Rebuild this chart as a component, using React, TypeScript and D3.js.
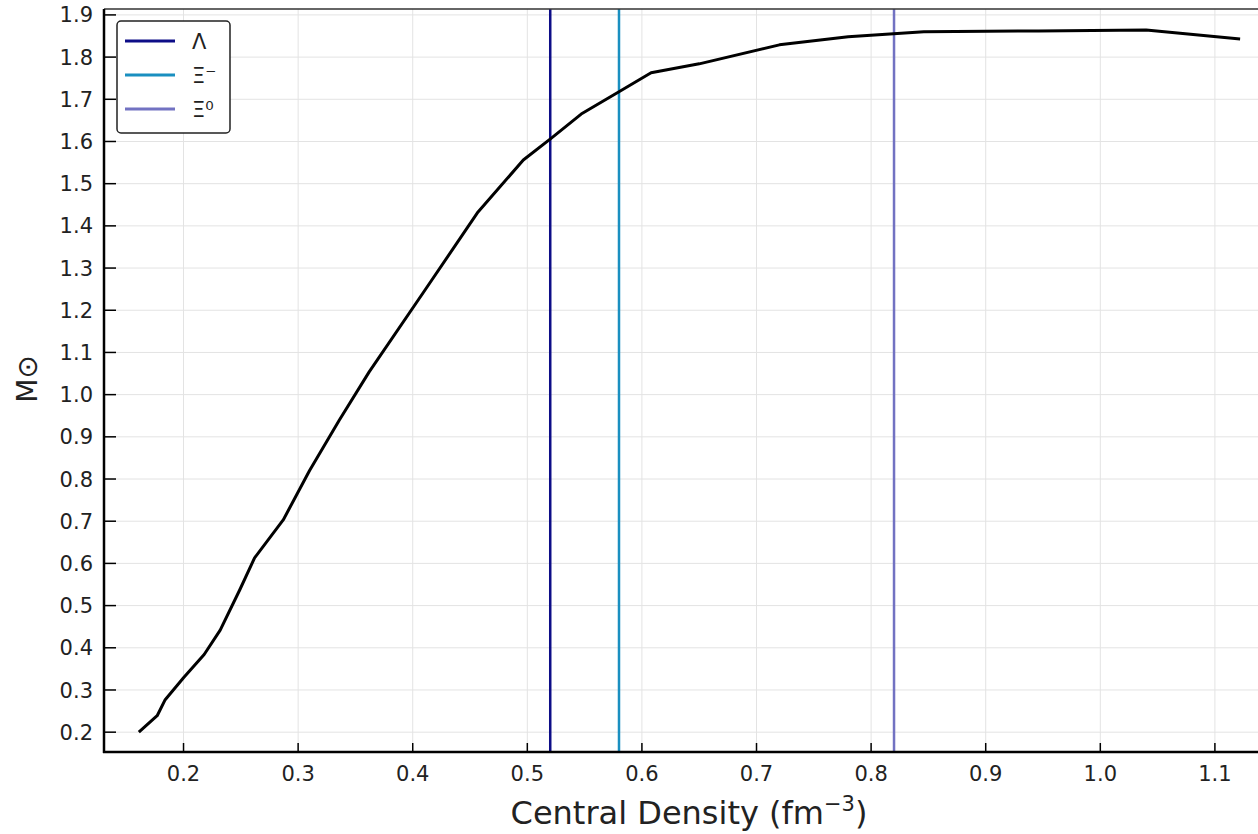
import React, { useEffect, useRef } from "react";
import * as d3 from "d3";

// central density (fm^-3) vs maximum mass (solar masses)
const density = [0.161, 0.177, 0.184, 0.2, 0.218, 0.232, 0.249, 0.262, 0.287, 0.31, 0.336, 0.362, 0.41, 0.457, 0.4965, 0.521, 0.547, 0.58, 0.608, 0.65, 0.72, 0.78, 0.846, 0.946, 1.04, 1.122];
const mass = [0.2, 0.239, 0.277, 0.329, 0.384, 0.442, 0.537, 0.613, 0.703, 0.82, 0.94, 1.054, 1.245, 1.433, 1.556, 1.608, 1.665, 1.718, 1.763, 1.784, 1.829, 1.848, 1.86, 1.862, 1.864, 1.843];

const thresholdNames = ["Λ", "Ξ⁻", "Ξ⁰"];
const thresholdDensity = [0.52, 0.58, 0.82];
const thresholdColors = ["#0d0d87", "#1a8fc0", "#7272c2"];

const xTicks = [0.2, 0.3, 0.4, 0.5, 0.6, 0.7, 0.8, 0.9, 1.0, 1.1];
const yTicks = d3.range(2, 20).map((v) => v / 10);

export default function App() {
  const ref = useRef<SVGSVGElement>(null);

  useEffect(() => {
    const W = 1258;
    const H = 834;
    const left = 104, top = 9, right = 1262, bottom = 752;
    const font = "DejaVu Sans, sans-serif";

    const svg = d3.select(ref.current).html("");
    svg.attr("width", W).attr("height", H);

    const x = d3.scaleLinear().domain([0.1306, 1.1411]).range([left, right]);
    const y = d3.scaleLinear().domain([0.153, 1.914]).range([bottom, top]);

    // grid
    const grid = svg.append("g").attr("stroke", "#e3e3e3").attr("stroke-width", 1);
    xTicks.forEach((t) => {
      grid.append("line").attr("x1", x(t)).attr("x2", x(t)).attr("y1", top).attr("y2", bottom);
    });
    yTicks.forEach((t) => {
      grid.append("line").attr("x1", left).attr("x2", right).attr("y1", y(t)).attr("y2", y(t));
    });

    // threshold lines
    thresholdDensity.forEach((d, i) => {
      svg.append("line")
        .attr("x1", x(d)).attr("x2", x(d))
        .attr("y1", top).attr("y2", bottom)
        .attr("stroke", thresholdColors[i])
        .attr("stroke-width", 2.5);
    });

    // mass curve
    const line = d3.line<number>()
      .x((d, i) => x(density[i]))
      .y((d) => y(d));
    svg.append("path")
      .attr("d", line(mass))
      .attr("fill", "none")
      .attr("stroke", "black")
      .attr("stroke-width", 3)
      .attr("stroke-linejoin", "round");

    // frame
    svg.append("line").attr("x1", left).attr("x2", right).attr("y1", top).attr("y2", top)
      .attr("stroke", "#333").attr("stroke-width", 1.5);
    svg.append("line").attr("x1", left).attr("x2", left).attr("y1", top).attr("y2", bottom + 1)
      .attr("stroke", "black").attr("stroke-width", 2.5);
    svg.append("line").attr("x1", left - 1).attr("x2", right).attr("y1", bottom).attr("y2", bottom)
      .attr("stroke", "black").attr("stroke-width", 2.5);

    // x ticks
    xTicks.forEach((t) => {
      svg.append("line").attr("x1", x(t)).attr("x2", x(t)).attr("y1", bottom).attr("y2", bottom - 9)
        .attr("stroke", "black").attr("stroke-width", 1.5);
      svg.append("text").attr("x", x(t)).attr("y", 781)
        .attr("text-anchor", "middle").attr("font-family", font).attr("font-size", 21)
        .attr("fill", "#222").text(t.toFixed(1));
    });

    // y ticks
    yTicks.forEach((t) => {
      svg.append("line").attr("x1", left).attr("x2", left + 12).attr("y1", y(t)).attr("y2", y(t))
        .attr("stroke", "black").attr("stroke-width", 1.5);
      svg.append("text").attr("x", 93).attr("y", y(t)).attr("dy", "0.36em")
        .attr("text-anchor", "end").attr("font-family", font).attr("font-size", 21)
        .attr("fill", "#222").text(t.toFixed(1));
    });

    // axis labels
    const xl = svg.append("text").attr("x", 689).attr("y", 824)
      .attr("text-anchor", "middle").attr("font-family", font).attr("font-size", 32)
      .attr("fill", "#222");
    xl.append("tspan").text("Central Density (fm");
    xl.append("tspan").attr("font-size", 21).attr("dy", -13).text("−3");
    xl.append("tspan").attr("dy", 13).text(")");

    svg.append("text")
      .attr("transform", "translate(37,379) rotate(-90)")
      .attr("text-anchor", "middle").attr("font-family", font).attr("font-size", 28)
      .attr("fill", "#222").text("M⊙");

    // legend
    const lg = svg.append("g");
    lg.append("rect").attr("x", 117).attr("y", 21).attr("width", 113).attr("height", 112)
      .attr("rx", 4).attr("fill", "white").attr("stroke", "#222").attr("stroke-width", 1.5);
    thresholdNames.forEach((name, i) => {
      const ry = 41 + i * 34;
      lg.append("line").attr("x1", 125).attr("x2", 175).attr("y1", ry).attr("y2", ry)
        .attr("stroke", thresholdColors[i]).attr("stroke-width", 3);
      lg.append("text").attr("x", 192).attr("y", ry).attr("dy", "0.36em")
        .attr("font-family", font).attr("font-size", 21).attr("fill", "#222").text(name);
    });
  }, []);

  return <svg ref={ref} style={{ position: "absolute", left: 0, top: 0 }} />;
}
